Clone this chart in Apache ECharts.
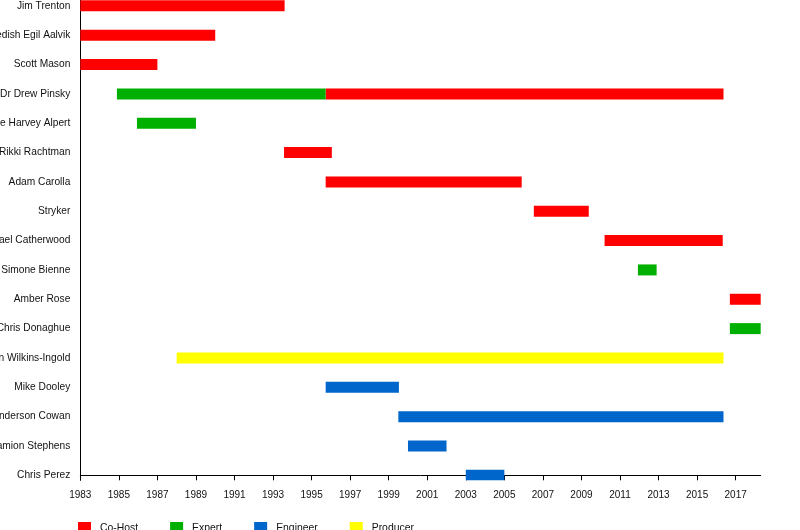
<!DOCTYPE html>
<html>
<head>
<meta charset="utf-8">
<title>Loveline timeline</title>
<script src="https://cdn.jsdelivr.net/npm/echarts@6/dist/echarts.min.js"></script>
<style>
html, body { margin: 0; padding: 0; background: #fff; }
#chart { width: 800px; height: 530px; }
</style>
</head>
<body>
<div id="chart"></div>
<script>
// rows, top to bottom
var names = [
    'Jim Trenton', 'Swedish Egil Aalvik', 'Scott Mason', 'Dr Drew Pinsky',
    'Bruce Harvey Alpert', 'Rikki Rachtman', 'Adam Carolla', 'Stryker',
    'Michael Catherwood', 'Simone Bienne', 'Amber Rose', 'Chris Donaghue',
    'Ann Wilkins-Ingold', 'Mike Dooley', 'Anderson Cowan', 'Damion Stephens',
    'Chris Perez'
];
var tickYears = [1983, 1985, 1987, 1989, 1991, 1993, 1995, 1997, 1999, 2001,
    2003, 2005, 2007, 2009, 2011, 2013, 2015, 2017];

// [name, from, to]
var coHost = [
    ['Jim Trenton', 1983, 1993.6],
    ['Swedish Egil Aalvik', 1983, 1990.0],
    ['Scott Mason', 1983, 1987.0],
    ['Dr Drew Pinsky', 1995.73, 2016.37],
    ['Rikki Rachtman', 1993.57, 1996.05],
    ['Adam Carolla', 1995.73, 2005.9],
    ['Stryker', 2006.53, 2009.38],
    ['Michael Catherwood', 2010.2, 2016.33],
    ['Amber Rose', 2016.7, 2018.3]
];
var expert = [
    ['Dr Drew Pinsky', 1984.9, 1995.73],
    ['Bruce Harvey Alpert', 1985.94, 1989.0],
    ['Simone Bienne', 2011.93, 2012.9],
    ['Chris Donaghue', 2016.7, 2018.3]
];
var engineer = [
    ['Mike Dooley', 1995.73, 1999.53],
    ['Anderson Cowan', 1999.5, 2016.37],
    ['Damion Stephens', 2000.0, 2002.0],
    ['Chris Perez', 2003.0, 2005.0]
];
var producer = [
    ['Ann Wilkins-Ingold', 1988.0, 2016.37]
];

var last = names.length - 1;

function rowsOf(list) {
    return list.map(function (d) {
        return [d[1], d[2], last - names.indexOf(d[0])];
    });
}

function renderBar(params, api) {
    var a = api.coord([api.value(0), api.value(2)]);
    var b = api.coord([api.value(1), api.value(2)]);
    var h = 11;
    var rect = echarts.graphic.clipRectByRect({
        x: a[0], y: a[1] - h / 2, width: b[0] - a[0], height: h
    }, {
        x: params.coordSys.x, y: params.coordSys.y,
        width: params.coordSys.width, height: params.coordSys.height
    });
    return rect && { type: 'rect', shape: rect, style: api.style() };
}

function barSeries(name, color, list) {
    return {
        name: name,
        type: 'custom',
        renderItem: renderBar,
        itemStyle: { color: color },
        encode: { x: [0, 1], y: 2 },
        data: rowsOf(list),
        silent: true
    };
}

var font = 'Liberation Sans, Arial, sans-serif';

echarts.init(document.getElementById('chart')).setOption({
    animation: false,
    textStyle: { fontFamily: font },
    grid: {
        left: 80.3, right: 39.3, top: 0, bottom: 49.7,
        containLabel: false,
        outerBoundsMode: 'none'
    },
    legend: {
        left: 78,
        top: 522,
        padding: 0,
        icon: 'rect',
        itemWidth: 13,
        itemHeight: 13,
        itemGap: 32,
        textStyle: { fontSize: 10.4, color: '#111', padding: [3, 0, 0, 4] },
        data: ['Co-Host', 'Expert', 'Engineer', 'Producer']
    },
    xAxis: {
        type: 'value',
        min: 1983,
        max: 2018.3,
        splitLine: { show: false },
        axisLine: { show: true, lineStyle: { color: '#000', width: 1 } },
        axisTick: { show: true, length: 5, lineStyle: { color: '#000' }, customValues: tickYears },
        axisLabel: {
            fontSize: 10, color: '#111', margin: 10, customValues: tickYears,
            formatter: function (v) { return String(v); }
        }
    },
    yAxis: {
        type: 'value',
        min: -0.17,
        max: 16.2,
        splitLine: { show: false },
        axisLine: { show: true, lineStyle: { color: '#000', width: 1 } },
        axisTick: { show: false },
        axisLabel: {
            fontSize: 10.2,
            color: '#111',
            margin: 10,
            customValues: names.map(function (n, i) { return last - i; }),
            formatter: function (v) {
                return names[last - Math.round(v)] || '';
            }
        }
    },
    series: [
        barSeries('Co-Host', '#ff0000', coHost),
        barSeries('Expert', '#00b000', expert),
        barSeries('Engineer', '#0066cc', engineer),
        barSeries('Producer', '#ffff00', producer)
    ]
});
</script>
</body>
</html>
